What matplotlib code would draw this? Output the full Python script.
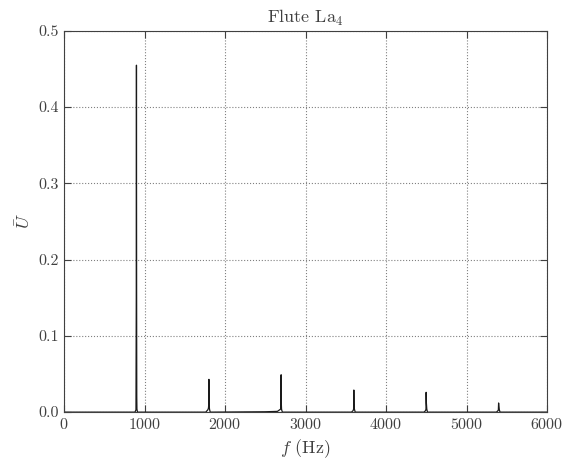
import numpy as np
import matplotlib
matplotlib.use('Agg')
import matplotlib.pyplot as plt

plt.rcParams['font.family'] = 'serif'
plt.rcParams['font.serif'] = ['cmr10', 'DejaVu Serif']
plt.rcParams['mathtext.fontset'] = 'cm'
plt.rcParams['axes.formatter.use_mathtext'] = True
plt.rcParams['axes.unicode_minus'] = False

# spectre (Hz, amplitude)
freq = [0, 880, 893, 897, 899, 901, 903, 905, 912, 1760, 1785, 1793, 1797, 1799, 1802, 1806, 1815,
        2500, 2650, 2690, 2696, 2698, 2701, 2705, 2712,
        3570, 3590, 3596, 3599, 3602, 3606, 3616,
        4470, 4490, 4495, 4497, 4500, 4505, 4514,
        5370, 5390, 5394, 5397, 5400, 5406, 5415, 6000]
amp = [0, 0, 0.003, 0.16, 0.455, 0.16, 0.02, 0.004, 0, 0, 0.003, 0.005, 0.01, 0.043, 0.01, 0.004, 0,
       0.0005, 0.001, 0.004, 0.049, 0.012, 0.004, 0.002, 0,
       0, 0.002, 0.004, 0.029, 0.01, 0.004, 0,
       0, 0.002, 0.004, 0.026, 0.012, 0.004, 0,
       0, 0.002, 0.003, 0.012, 0.008, 0.003, 0, 0]

txt = '0.25'
fig = plt.figure(figsize=(5.67, 4.61), dpi=100, facecolor='white')
ax = fig.add_axes([0.113, 0.106, 0.852, 0.827])
ax.plot(freq, amp, color='0.1', lw=0.9)

ax.set_xlim(0, 6000)
ax.set_ylim(0, 0.5)
ax.set_xticks([0, 1000, 2000, 3000, 4000, 5000, 6000])
ax.set_yticks([0.0, 0.1, 0.2, 0.3, 0.4, 0.5])
ax.set_yticklabels(['0.0', '0.1', '0.2', '0.3', '0.4', '0.5'])
ax.grid(True, linestyle=':', color='0.5', lw=0.8)
for s in ax.spines.values():
    s.set_color(txt)
ax.tick_params(direction='in', top=True, right=True, labelsize=11.5, length=5,
               colors=txt, labelcolor=txt)
ax.set_title('Flute La$_4$', fontsize=13, color=txt)
ax.set_xlabel('$f$ (Hz)', fontsize=13, color=txt)
ax.set_ylabel(r'$\bar{U}$', fontsize=13, color=txt)

plt.savefig('out.png', dpi=100, facecolor='white')
